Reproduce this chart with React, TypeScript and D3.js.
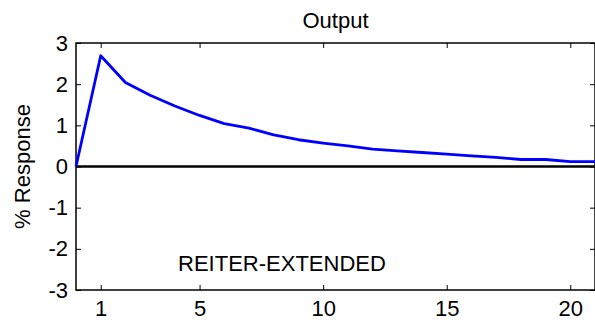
import React, { useRef, useEffect } from 'react';
import * as d3 from 'd3';

const horizons = [0, 1, 2, 3, 4, 5, 6, 7, 8, 9, 10, 11, 12, 13, 14, 15, 16, 17, 18, 19, 20, 21];
const response = [0, 2.69, 2.04, 1.73, 1.47, 1.24, 1.04, 0.93, 0.77, 0.65, 0.57, 0.5, 0.42, 0.38, 0.34, 0.3, 0.26, 0.22, 0.17, 0.17, 0.12, 0.12];
const xTicks = [1, 5, 10, 15, 20];
const yTicks = [-3, -2, -1, 0, 1, 2, 3];

const width = 595;
const height = 324;
const left = 76;
const right = 595;
const top = 43;
const bottom = 290;
const fontSize = 22;

const App = () => {
    const svgRef = useRef<SVGSVGElement>(null);

    useEffect(() => {
        const svg = d3.select(svgRef.current);
        svg.selectAll('*').remove();

        const font = 'Arial, "Liberation Sans", Helvetica, sans-serif';

        const xScale = d3.scaleLinear().domain([0, 21]).range([left, right]);
        const yScale = d3.scaleLinear().domain([-3, 3]).range([bottom, top]);

        const data = horizons.map((h, i) => ({ x: h, y: response[i] }));

        // box
        svg.append('rect')
            .attr('x', left)
            .attr('y', top)
            .attr('width', right - left)
            .attr('height', bottom - top)
            .attr('fill', 'none')
            .attr('stroke', '#000')
            .attr('stroke-width', 1.5);

        const styleAxis = (g) => {
            g.select('.domain').remove();
            g.selectAll('line').attr('stroke', '#000').attr('stroke-width', 1);
            g.selectAll('text')
                .attr('fill', '#000')
                .style('font-family', font)
                .style('font-size', `${fontSize}px`);
        };

        // bottom axis, ticks pointing inward
        svg.append('g')
            .attr('transform', `translate(0,${bottom})`)
            .call(d3.axisBottom(xScale).tickValues(xTicks).tickSize(-5).tickPadding(10).tickFormat(d => String(d)))
            .call(styleAxis);

        // top ticks
        svg.append('g')
            .attr('transform', `translate(0,${top})`)
            .call(d3.axisTop(xScale).tickValues(xTicks).tickSize(-5).tickFormat(() => ''))
            .call(styleAxis);

        // left axis
        svg.append('g')
            .attr('transform', `translate(${left},0)`)
            .call(d3.axisLeft(yScale).tickValues(yTicks).tickSize(-5).tickPadding(8).tickFormat(d => String(d)))
            .call(styleAxis);

        // right ticks
        svg.append('g')
            .attr('transform', `translate(${right},0)`)
            .call(d3.axisRight(yScale).tickValues(yTicks).tickSize(-5).tickFormat(() => ''))
            .call(styleAxis);

        // zero line
        svg.append('line')
            .attr('x1', left)
            .attr('x2', right)
            .attr('y1', yScale(0))
            .attr('y2', yScale(0))
            .attr('stroke', '#000')
            .attr('stroke-width', 2.5);

        const lineGenerator = d3.line<{ x: number; y: number }>()
            .x(d => xScale(d.x))
            .y(d => yScale(d.y));

        svg.append('path')
            .attr('d', lineGenerator(data))
            .attr('fill', 'none')
            .attr('stroke', '#0000ff')
            .attr('stroke-width', 2.8)
            .attr('stroke-linejoin', 'round');

        // title
        svg.append('text')
            .attr('x', (left + right) / 2)
            .attr('y', 28)
            .attr('text-anchor', 'middle')
            .style('font-family', font)
            .style('font-size', `${fontSize}px`)
            .text('Output');

        // y label
        svg.append('text')
            .attr('transform', `translate(30,${(top + bottom) / 2}) rotate(-90)`)
            .attr('text-anchor', 'middle')
            .style('font-family', font)
            .style('font-size', `${fontSize}px`)
            .text('% Response');

        // annotation
        svg.append('text')
            .attr('x', xScale(4.13))
            .attr('y', yScale(-2.55))
            .style('font-family', font)
            .style('font-size', `${fontSize}px`)
            .text('REITER-EXTENDED');
    }, []);

    return (
        <svg
            ref={svgRef}
            width={width}
            height={height}
            style={{ position: 'absolute', left: 0, top: 0, background: '#fff' }}
        />
    );
};

export default App;
